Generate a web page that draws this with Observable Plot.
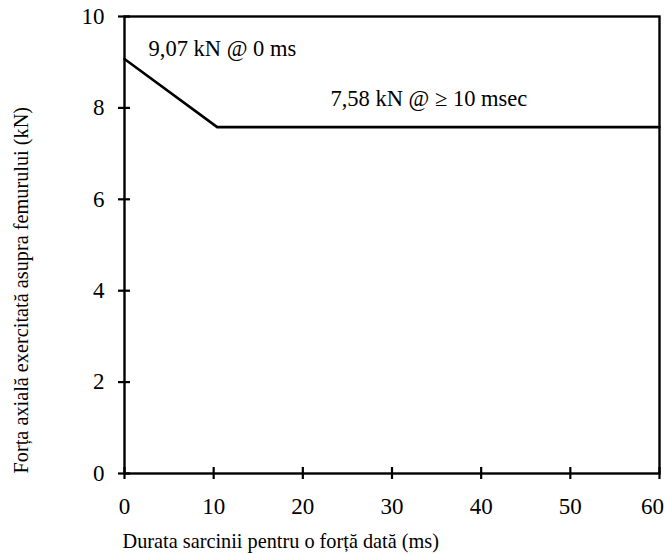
<!DOCTYPE html>
<html>
<head>
<meta charset="utf-8">
<script src="https://cdn.jsdelivr.net/npm/d3@7"></script>
<script src="https://cdn.jsdelivr.net/npm/@observablehq/plot@0.6"></script>
<style>
  html, body { margin: 0; padding: 0; background: white; }
  svg text { font-family: "Liberation Serif", serif !important; }
</style>
</head>
<body>
<div id="chart"></div>
<script>
const xTicks = [0, 10, 20, 30, 40, 50, 60];
const yTicks = [0, 2, 4, 6, 8, 10];
const duration = [0, 10.4, 60];
const force = [9.07, 7.58, 7.58];
const noteText = ["9,07 kN @ 0 ms", "7,58 kN @ \u2265 10 msec"];
const noteX = [2.7, 23.1];
const noteY = [9.29, 8.19];
const xTitle = "Durata sarcinii pentru o forță dată (ms)";
const yTitle = "Forța axială exercitată asupra femurului (kN)";

const line = duration.map((d, i) => ({duration: d, force: force[i]}));
const notes = noteText.map((t, i) => ({text: t, x: noteX[i], y: noteY[i]}));
const serif = "Liberation Serif";
const innerTicks = xTicks.slice(0, -1);
const lastTick = xTicks.slice(-1);

const chart = Plot.plot({
  width: 665,
  height: 554,
  marginLeft: 124,
  marginRight: 6,
  marginTop: 16,
  marginBottom: 81,
  style: {fontFamily: serif, fontSize: "22px", color: "black", background: "white", overflow: "visible"},
  x: {domain: [0, 60]},
  y: {domain: [0, 10]},
  marks: [
    Plot.frame({strokeWidth: 2.4, stroke: "black"}),
    Plot.axisX(xTicks, {tickSize: 12, dy: -6, tickFormat: () => "", strokeWidth: 2.2, label: null}),
    Plot.axisX(innerTicks, {tickSize: 0, tickPadding: 24, label: null, fontSize: 23, fontFamily: serif}),
    Plot.axisX(lastTick, {tickSize: 0, tickPadding: 24, dx: -7, label: null, fontSize: 23, fontFamily: serif}),
    Plot.axisY(yTicks, {tickSize: 12, dx: 6, tickFormat: () => "", strokeWidth: 2.2, label: null}),
    Plot.axisY(yTicks, {tickSize: 0, tickPadding: 20, label: null, fontSize: 23, fontFamily: serif}),
    Plot.line(line, {x: "duration", y: "force", stroke: "black", strokeWidth: 2.6}),
    Plot.text(notes, {x: "x", y: "y", text: "text", textAnchor: "start", lineAnchor: "middle", fontSize: 22.5, fontFamily: serif, fill: "black"}),
    Plot.text([xTitle], {frameAnchor: "bottom-left", textAnchor: "start", lineAnchor: "middle", dx: -2, dy: 67.6, fontSize: 20.3, fontFamily: serif, fill: "black"}),
    Plot.text([yTitle], {frameAnchor: "bottom-left", rotate: -90, textAnchor: "start", lineAnchor: "middle", dx: -103.4, fontSize: 20.3, fontFamily: serif, fill: "black"})
  ]
});
document.getElementById("chart").append(chart);
</script>
</body>
</html>
